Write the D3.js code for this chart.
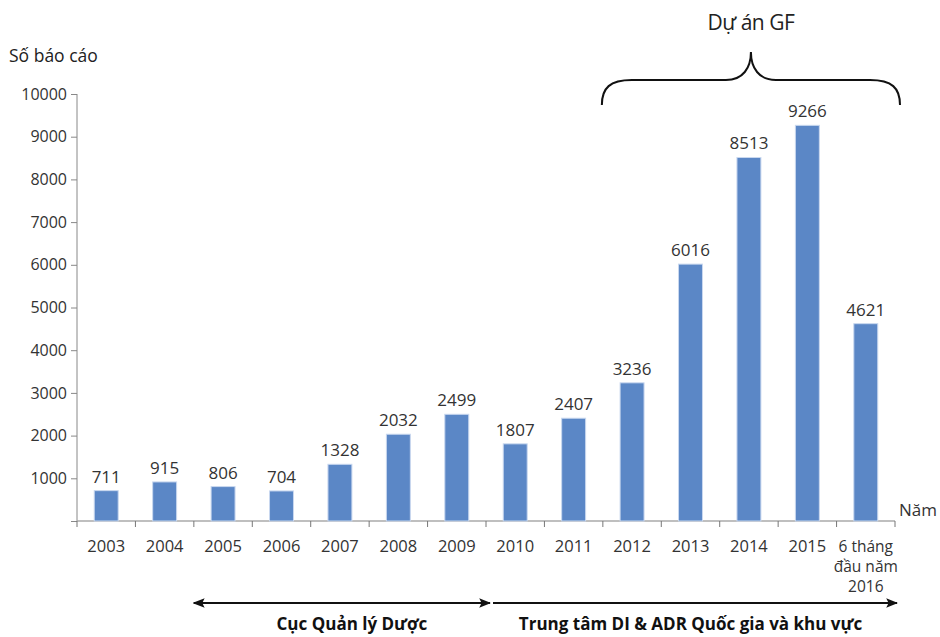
<!DOCTYPE html>
<html>
<head>
<meta charset="utf-8">
<script src="https://cdn.jsdelivr.net/npm/d3@7"></script>
<style>
  body { margin: 0; background: #fff; }
  text { font-family: "Open Sans", "Noto Sans", sans-serif; }
</style>
</head>
<body>
<svg id="chart" width="940" height="637"></svg>
<script>
// data
const years = ["2003", "2004", "2005", "2006", "2007", "2008", "2009",
  "2010", "2011", "2012", "2013", "2014", "2015", "2016*"];
const reports = [711, 915, 806, 704, 1328, 2032, 2499,
  1807, 2407, 3236, 6016, 8513, 9266, 4621];
const yTicks = [0, 1000, 2000, 3000, 4000, 5000, 6000, 7000, 8000, 9000, 10000];
const lastLabel = ["6 tháng", "đầu năm", "2016"];

const svg = d3.select("#chart");
const plotL = 77, plotR = 895, plotT = 94, plotB = 521;

const x = d3.scaleBand().domain(years).range([plotL, plotR]).paddingInner(0.59).paddingOuter(0.295);
const step = x.step();
const y = d3.scaleLinear().domain([0, 10000]).range([plotB, plotT]);

// y axis
const yAxis = svg.append("g")
  .attr("transform", "translate(" + plotL + ",0)")
  .call(d3.axisLeft(y).tickValues(yTicks).tickSize(6).tickPadding(4)
    .tickFormat((d) => d === 0 ? "" : d));
yAxis.select(".domain").attr("stroke", "#888").attr("d", "M0," + plotB + "V" + plotT);
yAxis.selectAll(".tick line").attr("stroke", "#888");
yAxis.selectAll(".tick text").style("font-size", "16px").attr("fill", "#333");

// x axis line with ticks at band edges
const xg = svg.append("g");
xg.append("line")
  .attr("x1", plotL).attr("x2", plotR)
  .attr("y1", plotB).attr("y2", plotB)
  .attr("stroke", "#aaa").attr("stroke-width", 1.5);
const edges = years.map((d) => x(d) - step * x.paddingOuter()).concat([plotR]);
xg.selectAll(".xt").data(edges).enter().append("line")
  .attr("x1", (d) => d).attr("x2", (d) => d)
  .attr("y1", plotB).attr("y2", plotB + 6)
  .attr("stroke", "#777");

// x labels
xg.selectAll(".xl").data(years.slice(0, -1)).enter().append("text")
  .attr("x", (d) => x(d) + x.bandwidth() / 2)
  .attr("y", 552)
  .attr("text-anchor", "middle")
  .style("font-size", "16.5px").attr("fill", "#333")
  .text((d) => d);
const lastX = x("2016*") + x.bandwidth() / 2;
xg.append("g").selectAll("text").data(lastLabel).enter().append("text")
  .attr("text-anchor", "middle")
  .style("font-size", "15.5px").attr("fill", "#333")
  .attr("x", lastX)
  .attr("y", (d, i) => 552 + i * 20)
  .text((d) => d);

// bars
svg.append("g").selectAll("rect").data(reports).enter().append("rect")
  .attr("x", (d, i) => x(years[i]))
  .attr("y", (d) => y(d))
  .attr("width", x.bandwidth())
  .attr("height", (d) => plotB - y(d))
  .attr("fill", "#5b87c6")
  .attr("stroke", "#c9d8ef").attr("stroke-width", 1);

// value labels
svg.append("g").selectAll("text").data(reports).enter().append("text")
  .attr("x", (d, i) => x(years[i]) + x.bandwidth() / 2)
  .attr("y", (d) => y(d) - 8)
  .attr("text-anchor", "middle")
  .style("font-size", "17px").attr("fill", "#333")
  .text((d) => d);

// axis titles
svg.append("text").attr("x", 9).attr("y", 62)
  .style("font-size", "17.5px").attr("fill", "#222").text("Số báo cáo");
svg.append("text").attr("x", 899).attr("y", 516)
  .style("font-size", "17px").attr("fill", "#333").text("Năm");

// brace over GF project years
const bx1 = x("2012") - step * x.paddingOuter() - 1, bx2 = plotR + 5;
const bm = (bx1 + bx2) / 2;
svg.append("path")
  .attr("d", "M" + bx1 + ",105 C" + bx1 + ",88 " + (bx1 + 8) + ",80 " + (bx1 + 30) + ",80" +
    " L" + (bm - 25) + ",80 C" + (bm - 8) + ",80 " + bm + ",68 " + bm + ",52" +
    " C" + bm + ",68 " + (bm + 8) + ",80 " + (bm + 25) + ",80" +
    " L" + (bx2 - 30) + ",80 C" + (bx2 - 8) + ",80 " + bx2 + ",88 " + bx2 + ",105")
  .attr("fill", "none").attr("stroke", "#111").attr("stroke-width", 2);
svg.append("text").attr("x", bm).attr("y", 30)
  .attr("text-anchor", "middle")
  .style("font-size", "21px").attr("fill", "#222").attr("letter-spacing", "-0.5")
  .text("Dự án GF");

// period arrows
const defs = svg.append("defs");
defs.append("marker").attr("id", "ah")
  .attr("viewBox", "0 0 10 10").attr("refX", 9).attr("refY", 5)
  .attr("markerWidth", 6).attr("markerHeight", 6).attr("orient", "auto-start-reverse")
  .attr("markerUnits", "strokeWidth")
  .append("path").attr("d", "M0,1 L10,5 L0,9 L2,5 Z").attr("fill", "#111");

const a1 = x("2005") - step * x.paddingOuter();
const a2 = x("2010") - step * x.paddingOuter();
svg.append("line").attr("x1", a1).attr("x2", a2 + 4).attr("y1", 603).attr("y2", 603)
  .attr("stroke", "#111").attr("stroke-width", 2)
  .attr("marker-start", "url(#ah)").attr("marker-end", "url(#ah)");
svg.append("line").attr("x1", a2 + 7).attr("x2", plotR + 2).attr("y1", 603).attr("y2", 603)
  .attr("stroke", "#111").attr("stroke-width", 2)
  .attr("marker-end", "url(#ah)");

svg.append("text").attr("x", (a1 + a2) / 2 + 12).attr("y", 630)
  .attr("text-anchor", "middle").style("font-size", "17px").style("font-weight", "bold")
  .attr("fill", "#111").text("Cục Quản lý Dược");
svg.append("text").attr("x", (a2 + plotR) / 2).attr("y", 630)
  .attr("text-anchor", "middle").style("font-size", "17px").style("font-weight", "bold")
  .attr("fill", "#111").text("Trung tâm DI & ADR Quốc gia và khu vực");
</script>
</body>
</html>
